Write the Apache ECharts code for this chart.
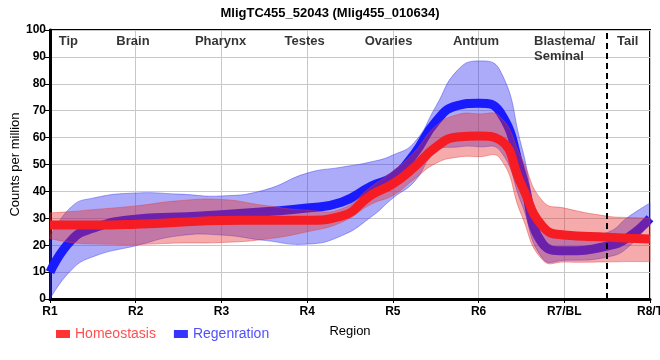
<!DOCTYPE html>
<html>
<head>
<meta charset="utf-8">
<script src="https://cdn.jsdelivr.net/npm/echarts@6/dist/echarts.min.js"></script>
<style>html,body{margin:0;padding:0;background:#fff}#c{width:660px;height:360px}</style>
</head>
<body>
<div id="c"></div>
<script>
// ---- data ----
const tickLabels = ['R1', 'R2', 'R3', 'R4', 'R5', 'R6', 'R7/BL', 'R8/T'];
const xs = [1, 1.25, 1.5, 2, 2.5, 3, 3.5, 4, 4.4, 4.75, 5, 5.25, 5.5, 5.75, 6, 6.25, 6.5, 6.75, 7, 7.5, 7.75, 8];
const homeoMean = [27.5, 27.5, 27.5, 27.8, 28.5, 29.2, 29.3, 29.3, 30.8, 38.7, 42.8, 49, 56.4, 60.2, 60.6, 59.1, 42.5, 26.9, 23.8, 23, 22.6, 22.3];
const homeoLow  = [22.5, 21, 20.5, 20.3, 20.8, 21, 22.2, 25, 28.5, 35.3, 38.5, 44.6, 50.4, 52.7, 52.9, 52.3, 31.3, 14.4, 13.75, 13.8, 13.9, 13.9];
const homeoHigh = [32, 32.5, 33.2, 34.6, 36.5, 37, 34.8, 33, 33.5, 41.8, 47.5, 54.6, 64.3, 68.5, 68.8, 67.8, 52.5, 36.3, 33.8, 30.8, 30.3, 30.1];
const regenMean = [10, 21.9, 26.3, 29.7, 30.5, 31.3, 32.4, 33.8, 36, 42, 45.5, 53.9, 65.9, 71.9, 72.8, 69.5, 46.9, 20.4, 17.9, 19.7, 23, 30];
const regenLow  = [0, 10.8, 15.7, 19.8, 23.5, 23.8, 21.8, 20.4, 23.5, 30.6, 37.5, 43.6, 54.8, 56.5, 56.6, 55.2, 35.6, 15, 14.4, 15.6, 19.4, 29];
const regenHigh = [23, 34.3, 37.5, 39.4, 39, 38.3, 40.5, 46.8, 49, 51, 53.5, 58.2, 71.5, 84.9, 88.5, 85, 57, 26, 22.3, 24.7, 30.6, 35.7];
const regionNames = ['Tip', 'Brain', 'Pharynx', 'Testes', 'Ovaries', 'Antrum', 'Blastema/\nSeminal', 'Tail'];
const boundaryX = 7.5;

// ---- build ----
const pair = (a) => xs.map((x, i) => [x, a[i]]);
const regionAnchor = [1.214, 1.968, 2.99, 3.97, 4.95, 5.97, 6.647, 7.74];
const font = 'Liberation Sans, Arial, sans-serif';

// smooth path through pixel points (same scheme as ECharts line smoothing)
function splineSegs(pts, smooth) {
  const n = pts.length, cIn = [], cOut = [];
  for (let i = 0; i < n; i++) {
    const p = pts[i];
    if (i === 0 || i === n - 1) { cIn[i] = p; cOut[i] = p; continue; }
    const a = pts[i - 1], b = pts[i + 1];
    const vx = b[0] - a[0], vy = b[1] - a[1];
    const d0 = Math.hypot(p[0] - a[0], p[1] - a[1]);
    const d1 = Math.hypot(b[0] - p[0], b[1] - p[1]);
    const r = d1 / (d0 + d1 || 1);
    cIn[i] = [p[0] - vx * smooth * (1 - r), p[1] - vy * smooth * (1 - r)];
    cOut[i] = [p[0] + vx * smooth * r, p[1] + vy * smooth * r];
  }
  let s = '';
  for (let i = 0; i < n - 1; i++) {
    s += ' C' + cOut[i][0] + ' ' + cOut[i][1] + ' ' + cIn[i + 1][0] + ' ' + cIn[i + 1][1] + ' ' + pts[i + 1][0] + ' ' + pts[i + 1][1];
  }
  return s;
}
function bandSeries(name, lo, hi, fill, stroke, z) {
  return {
    name: name, type: 'custom', silent: true, z: z, clip: false,
    data: [[xs[0], lo[0]]],
    renderItem: function (params, api) {
      const up = xs.map((x, i) => api.coord([x, hi[i]]));
      const dn = xs.map((x, i) => api.coord([x, lo[i]])).reverse();
      const d = 'M' + up[0][0] + ' ' + up[0][1] + splineSegs(up, 0.5) +
        ' L' + dn[0][0] + ' ' + dn[0][1] + splineSegs(dn, 0.5) + ' Z';
      return {type: 'path', shape: {pathData: d}, style: {fill: fill, stroke: stroke, lineWidth: 1}};
    }
  };
}

const chart = echarts.init(document.getElementById('c'), null, {renderer: 'canvas'});
chart.setOption({
  animation: false,
  backgroundColor: '#fff',
  title: {
    text: 'MligTC455_52043 (Mlig455_010634)',
    left: 'center', top: 2,
    textStyle: {fontFamily: font, fontSize: 13, fontWeight: 'bold', color: '#000'}
  },
  legend: {
    left: 51, top: 322, icon: 'rect', itemWidth: 14, itemHeight: 8, itemGap: 18,
    textStyle: {fontFamily: font, fontSize: 14},
    data: [
      {name: 'Homeostasis', textStyle: {color: '#ff5050'}},
      {name: 'Regenration', textStyle: {color: '#5050ff'}}
    ]
  },
  grid: {left: 50, right: 10, top: 30, bottom: 61, outerBoundsMode: 'none', containLabel: false,
    show: true, borderColor: '#000', borderWidth: 2},
  xAxis: {
    type: 'value', min: 1, max: 8, interval: 1,
    name: 'Region', nameLocation: 'middle', nameGap: 26, nameMoveOverlap: false,
    nameTextStyle: {fontFamily: font, fontSize: 13, color: '#000'},
    axisLine: {lineStyle: {color: '#000', width: 3}},
    axisTick: {show: true, length: 4, lineStyle: {color: '#000', width: 1}},
    axisLabel: {fontFamily: font, fontSize: 12, fontWeight: 'bold', color: '#000', margin: 7,
      hideOverlap: false, showMaxLabel: true, showMinLabel: true,
      formatter: (v) => tickLabels[Math.round(v) - 1] || ''},
    splitLine: {show: true, lineStyle: {color: '#c8c8c8', width: 1}}
  },
  yAxis: {
    type: 'value', min: 0, max: 100, interval: 10,
    name: 'Counts per million', nameLocation: 'middle', nameGap: 28, nameMoveOverlap: false,
    nameTextStyle: {fontFamily: font, fontSize: 13, color: '#000'},
    axisLine: {show: true, lineStyle: {color: '#000', width: 3}},
    axisTick: {show: true, length: 5, lineStyle: {color: '#000', width: 1}},
    axisLabel: {fontFamily: font, fontSize: 12, fontWeight: 'bold', color: '#000', margin: 4},
    splitLine: {show: true, lineStyle: {color: '#c8c8c8', width: 1}}
  },
  series: [
    bandSeries('regenBand', regenLow, regenHigh, 'rgba(45,45,240,0.40)', 'rgba(60,60,240,0.45)', 2),
    {name: 'Regenration', type: 'line', smooth: true, showSymbol: false, z: 3,
     data: pair(regenMean), itemStyle: {color: '#3535ff'}, lineStyle: {color: '#1a1aff', width: 9}},
    bandSeries('homeoBand', homeoLow, homeoHigh, 'rgba(230,45,45,0.40)', 'rgba(230,60,60,0.45)', 4),
    {name: 'Homeostasis', type: 'line', smooth: true, showSymbol: false, z: 5,
     data: pair(homeoMean), itemStyle: {color: '#ff3535'}, lineStyle: {color: '#f51c24', width: 9},
     markLine: {silent: true, symbol: 'none', label: {show: false},
       lineStyle: {type: [6, 4], color: '#000', width: 2},
       data: [{xAxis: boundaryX}]}},
    {name: 'regions', type: 'scatter', symbolSize: 0, silent: true, z: 6,
     data: regionNames.map((n, i) => ({value: [regionAnchor[i], 95.8], name: n,
       label: i === 6 ? {align: 'left', verticalAlign: 'top', offset: [0, -7], lineHeight: 15} : {}})),
     label: {show: true, position: 'inside', formatter: (p) => p.name,
       fontFamily: font, fontSize: 13, fontWeight: 'bold', color: '#000'}}
  ]
});
</script>
</body>
</html>
